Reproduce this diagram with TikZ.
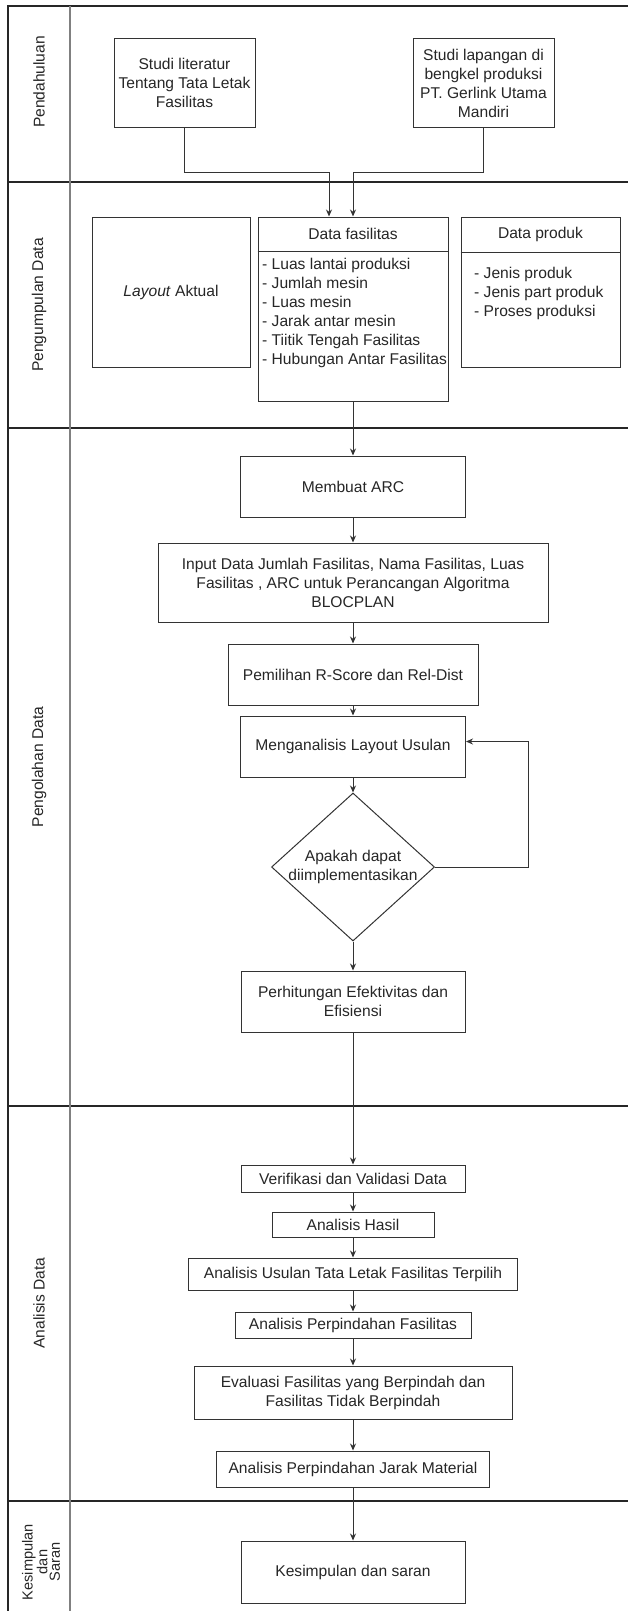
\documentclass[tikz,border=0pt]{standalone}
\usepackage{fontspec}
\setmainfont{Liberation Sans}
\usepackage{tikz}
\usetikzlibrary{arrows.meta,positioning,shapes.geometric}

\begin{document}
\begin{tikzpicture}[x=1pt, y=-1pt, >={Stealth[length=7pt,width=6pt]},
    every node/.style={text=black!85, font=\fontsize{15.6}{19}\selectfont},
    box/.style={draw=black!80, line width=1pt, align=center, inner sep=2pt},
    decision/.style={diamond, draw=black!80, line width=1pt, inner sep=0pt, align=center},
    flow/.style={->, draw=black!80, line width=1pt},
    lane/.style={draw=black!85, line width=1.2pt},
    lanelabel/.style={rotate=90, align=center}]
  \useasboundingbox (0,0) rectangle (628,1611);

  % lanes
  \draw[lane] (8,1611) -- (8,6) -- (628,6);
  \foreach \y in {182,428,1106,1501}
    \draw[lane] (8,\y) -- (628,\y);
  \draw[draw=black!50, line width=1.2pt] (70,6) -- (70,1611);

  \node[lanelabel] (l1) at (39,82)   {Pendahuluan};
  \node[lanelabel] (l2) at (39,305)  {Pengumpulan Data};
  \node[lanelabel] (l3) at (39,767)  {Pengolahan Data};
  \node[lanelabel] (l4) at (39,1303) {Analisis Data};
  \node[lanelabel, font=\fontsize{14.6}{12.5}\selectfont] (l5) at (41,1562) {Kesimpulan\\dan\\Saran};

  % pendahuluan
  \node[box, minimum width=141pt, minimum height=88pt] (lit) at (184.5,83)
       {Studi literatur\\Tentang Tata Letak\\Fasilitas};
  \node[box, minimum width=141pt, minimum height=88pt] (lap) at (483.5,83)
       {Studi lapangan di\\bengkel produksi\\PT. Gerlink Utama\\Mandiri};

  % pengumpulan data
  \node[box, minimum width=190pt, minimum height=184pt] (fas) at (353,309) {};
  \node (fastitle) at ([yshift=-17.5pt]fas.north) {Data fasilitas};
  \draw[draw=black!80, line width=1pt] ([yshift=-35pt]fas.north west) -- ([yshift=-35pt]fas.north east);
  \node[anchor=west, align=left, inner sep=0pt] (faslist) at (262,313)
       {- Luas lantai produksi\\- Jumlah mesin\\- Luas mesin\\- Jarak antar mesin\\- Tiitik Tengah Fasilitas\\- Hubungan Antar Fasilitas};

  \node[box, minimum width=158pt, minimum height=150pt, left=7pt of fas.north west, anchor=north east] (lay)
       {\textit{Layout} Aktual};
  \node[box, minimum width=159pt, minimum height=150pt, right=12pt of fas.north east, anchor=north west] (prod) {};
  \node (prodtitle) at ([yshift=-18pt]prod.north) {Data produk};
  \draw[draw=black!80, line width=1pt] ([yshift=-36pt]prod.north west) -- ([yshift=-36pt]prod.north east);
  \node[anchor=west, align=left, inner sep=0pt] (prodlist) at (474,293)
       {- Jenis produk\\- Jenis part produk\\- Proses produksi};

  % pengolahan data
  \node[box, minimum width=225pt, minimum height=61pt] (arc) [below=54pt of fas] {Membuat ARC};
  \node[box, minimum width=390pt, minimum height=79pt] (inp) [below=25pt of arc]
       {Input Data Jumlah Fasilitas, Nama Fasilitas, Luas\\Fasilitas , ARC untuk Perancangan Algoritma\\BLOCPLAN};
  \node[box, minimum width=250pt, minimum height=61pt] (pem) [below=21pt of inp] {Pemilihan R-Score dan Rel-Dist};
  \node[box, minimum width=225pt, minimum height=61pt] (ana) [below=10pt of pem] {Menganalisis Layout Usulan};
  \node[decision, minimum width=163pt, minimum height=148pt] (dec) [below=15pt of ana]
       {\makebox[0pt]{Apakah dapat}\\\makebox[0pt]{diimplementasikan}};
  \node[box, minimum width=224pt, minimum height=61pt] (eff) [below=29pt of dec]
       {Perhitungan Efektivitas dan\\Efisiensi};

  % analisis data
  \node[box, minimum width=224pt, minimum height=27pt] (ver) [below=132pt of eff] {Verifikasi dan Validasi Data};
  \node[box, minimum width=162pt, minimum height=25pt] (has) [below=19pt of ver] {Analisis Hasil};
  \node[box, minimum width=329pt, minimum height=32pt] (usl) [below=20pt of has] {Analisis Usulan Tata Letak Fasilitas Terpilih};
  \node[box, minimum width=236pt, minimum height=26pt] (pin) [below=21pt of usl] {Analisis Perpindahan Fasilitas};
  \node[box, minimum width=318pt, minimum height=53pt] (evl) [below=27pt of pin]
       {Evaluasi Fasilitas yang Berpindah dan\\Fasilitas Tidak Berpindah};
  \node[box, minimum width=273pt, minimum height=36pt] (jrk) [below=31pt of evl] {Analisis Perpindahan Jarak Material};

  % kesimpulan dan saran
  \node[box, minimum width=224pt, minimum height=62pt] (kes) [below=53pt of jrk] {Kesimpulan dan saran};

  % connectors
  \draw[flow] (lit.south) -- ++(0,45) -| ([xshift=-24pt]fas.north);
  \draw[flow] (lap.south) -- ++(0,45) -| (fas.north);

  \path[flow] (fas) edge (arc)
              (arc) edge (inp)
              (inp) edge (pem)
              (pem) edge (ana)
              (ana) edge (dec)
              (dec) edge (eff)
              (eff) edge (ver)
              (ver) edge (has)
              (has) edge (usl)
              (usl) edge (pin)
              (pin) edge (evl)
              (evl) edge (jrk)
              (jrk) edge (kes);

  \coordinate (back) at ([xshift=62pt,yshift=5pt]ana.east);
  \draw[flow] (dec.east) -| (back) -- (back -| ana.east);
\end{tikzpicture}
\end{document}
